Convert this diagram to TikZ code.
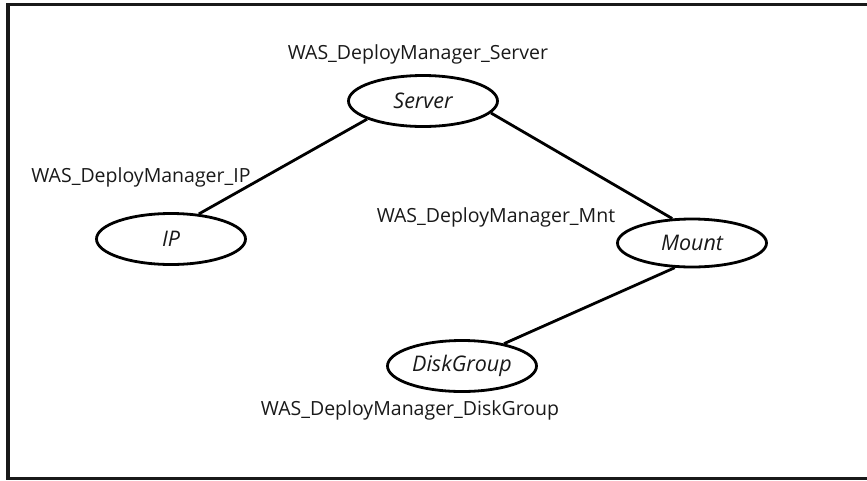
\documentclass[tikz,border=0pt]{standalone}
\usepackage{fontspec}
\setmainfont{Open Sans}
\usetikzlibrary{shapes.geometric}
\tikzset{
  res/.style={ellipse, draw=black, line width=2.8pt, minimum width=149pt, minimum height=51pt, inner sep=0pt, font=\fontsize{21.5}{24}\selectfont\itshape, text=black!90},
  lbl/.style={inner sep=0pt, font=\fontsize{19.5}{22}\selectfont, text=black!90},
  link/.style={line width=2.8pt}
}
\begin{document}
\begin{tikzpicture}[x=1pt,y=-1pt]
\useasboundingbox (0,0) rectangle (867,480);
\draw[line width=3.5pt, color=black!90] (867,4.5) -- (8,4.5) -- (8,478.5) -- (867,478.5);
\node[res] (server) at (423,101) {Server};
\node[res] (ip) at (171,239) {IP};
\node[res, minimum height=48pt] (mount) at (692,243) {Mount};
\node[res] (dg) at (462,366) {DiskGroup};
\node[lbl] (lserver) at (418,54) {WAS\_DeployManager\_Server};
\node[lbl] (lip) at (141,177) {WAS\_DeployManager\_IP};
\node[lbl] (lmnt) at (496,217) {WAS\_DeployManager\_Mnt};
\node[lbl] (ldg) at (410,410) {WAS\_DeployManager\_DiskGroup};
\draw[link] (server.198) -- (ip.42);
\draw[link] (server.350) -- (mount.129);
\draw[link] (mount.235) -- (dg.28);
\end{tikzpicture}
\end{document}
